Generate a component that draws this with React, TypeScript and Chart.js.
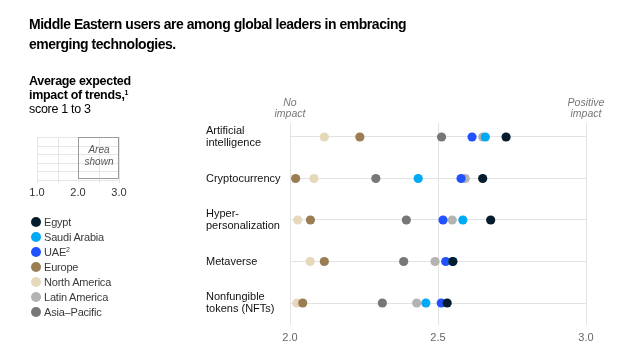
import React, { useEffect, useRef } from "react";
import { Chart, registerables } from "chart.js";

Chart.register(...registerables);

const categories: string[][] = [
  ["Artificial", "intelligence"],
  ["Cryptocurrency"],
  ["Hyper-", "personalization"],
  ["Metaverse"],
  ["Nonfungible", "tokens (NFTs)"],
];

const seriesNames = ["Egypt", "Saudi Arabia", "UAE", "Europe", "North America", "Latin America", "Asia–Pacific"];
const seriesLegend = ["Egypt", "Saudi Arabia", "UAE²", "Europe", "North America", "Latin America", "Asia–Pacific"];
const seriesColors = ["#051c2c", "#00a9f4", "#2251ff", "#9a7d52", "#e6d9bb", "#b3b3b3", "#777777"];

const egypt = [2.73, 2.651, 2.678, 2.55, 2.531];
const saudiArabia = [2.66, 2.433, 2.584, 2.55, 2.459];
const uae = [2.615, 2.578, 2.517, 2.526, 2.511];
const europe = [2.236, 2.019, 2.069, 2.116, 2.043];
const northAmerica = [2.116, 2.081, 2.026, 2.068, 2.023];
const latinAmerica = [2.651, 2.592, 2.548, 2.49, 2.428];
const asiaPacific = [2.512, 2.29, 2.393, 2.384, 2.312];

const seriesValues = [egypt, saudiArabia, uae, europe, northAmerica, latinAmerica, asiaPacific];

const xTicks = [2.0, 2.5, 3.0];
const insetTicks = ["1.0", "2.0", "3.0"];

const FONT = "'Liberation Sans', Arial, sans-serif";

const annotPlugin = {
  id: "annot",
  afterDraw(chart: any) {
    const ctx = chart.ctx;
    const x = chart.scales.x;
    ctx.save();
    ctx.fillStyle = "#777777";
    ctx.font = `italic 10.5px ${FONT}`;
    ctx.textAlign = "center";
    ctx.textBaseline = "middle";
    const x0 = x.getPixelForValue(2.0);
    const x1 = x.getPixelForValue(3.0);
    ctx.fillText("No", x0, 103);
    ctx.fillText("impact", x0, 114.5);
    ctx.fillText("Positive", x1, 103);
    ctx.fillText("impact", x1, 114.5);
    ctx.restore();
  },
};

export default function App() {
  const ref = useRef<HTMLCanvasElement | null>(null);
  useEffect(() => {
    if (!ref.current) return;
    const datasets = seriesNames.map((name, i) => ({
      label: name,
      data: seriesValues[i].map((v, j) => ({ x: v, y: j })),
      backgroundColor: seriesColors[i],
      borderWidth: 0,
      pointRadius: 4.6,
      pointHoverRadius: 4.6,
    }));
    const chart = new Chart(ref.current, {
      type: "scatter",
      data: { datasets },
      plugins: [annotPlugin],
      options: {
        animation: false,
        responsive: false,
        maintainAspectRatio: false,
        layout: { padding: { left: 206, right: 36, top: 123, bottom: 0 } },
        plugins: { legend: { display: false }, tooltip: { enabled: false } },
        scales: {
          x: {
            type: "linear",
            min: 2,
            max: 3,
            afterBuildTicks: (s: any) => {
              s.ticks = xTicks.map((v) => ({ value: v }));
            },
            afterFit: (s: any) => {
              s.height = 25;
            },
            grid: { color: "#e3e3e3", drawTicks: false, lineWidth: 1 },
            border: { display: false },
            ticks: {
              padding: 6,
              color: "#666666",
              font: { family: FONT, size: 11 },
              callback: (v: any) => Number(v).toFixed(1),
            },
          },
          y: {
            type: "linear",
            reverse: true,
            min: -0.337,
            max: 4.53,
            afterBuildTicks: (s: any) => {
              s.ticks = categories.map((_, i) => ({ value: i }));
            },
            afterFit: (s: any) => {
              s.width = 84;
            },
            grid: { color: "#e3e3e3", drawTicks: false, lineWidth: 1 },
            border: { display: false },
            ticks: {
              padding: 0,
              crossAlign: "far",
              color: "#111111",
              font: { family: FONT, size: 11, lineHeight: 1.13 },
              callback: (v: any) => categories[Math.round(Number(v))],
            },
          },
        },
      } as any,
    });
    return () => chart.destroy();
  }, []);

  const abs = (l: number, t: number, extra: React.CSSProperties = {}): React.CSSProperties => ({
    position: "absolute",
    left: l,
    top: t,
    ...extra,
  });

  const insetV = [37, 57.5, 78, 98.5, 119];
  const insetH = [137, 145.5, 154, 162.5, 171, 179.5];

  return (
    <div style={{ position: "absolute", left: 0, top: 0, width: 622, height: 350, fontFamily: FONT, background: "#fff" }}>
      <canvas ref={ref} width={622} height={350} style={{ position: "absolute", left: 0, top: 0 }} />
      <div
        style={abs(29, 14, {
          fontSize: 15.5,
          fontWeight: "bold",
          lineHeight: "20px",
          color: "#000",
          letterSpacing: -0.5,
          whiteSpace: "nowrap",
          transform: "scaleX(0.9)",
          transformOrigin: "0 0",
        })}
      >
        Middle Eastern users are among global leaders in embracing
        <br />
        emerging technologies.
      </div>
      <div style={abs(29, 74, { fontSize: 12.5, lineHeight: "14px", color: "#000", letterSpacing: -0.3, whiteSpace: "nowrap" })}>
        <b>Average expected</b>
        <br />
        <b>
          impact of trends,<sup style={{ fontSize: 7, verticalAlign: "top", lineHeight: "10px" }}>1</sup>
        </b>
        <br />
        score 1 to 3
      </div>
      {insetH.map((y, i) => (
        <div key={"h" + i} style={abs(37, y, { width: 82, height: 1, background: "#e6e6e6" })} />
      ))}
      {insetV.map((x, i) => (
        <div key={"v" + i} style={abs(x, 137, { width: 1, height: 46, background: "#e6e6e6" })} />
      ))}
      <div style={abs(78, 137, { width: 41, height: 42, border: "1px solid #9a9a9a", boxSizing: "border-box" as any })} />
      <div style={abs(78, 144, { width: 42, textAlign: "center", fontStyle: "italic", fontSize: 10, lineHeight: "11.5px", color: "#555" })}>
        Area
        <br />
        shown
      </div>
      {insetTicks.map((t, i) => (
        <div key={"t" + i} style={abs([37, 78, 119][i] - 15, 185, { width: 30, textAlign: "center", fontSize: 11, color: "#333", lineHeight: "14px" })}>
          {t}
        </div>
      ))}
      {seriesLegend.map((name, i) => (
        <div key={"l" + i} style={abs(31, 215 + i * 15, { display: "flex", alignItems: "center", height: 14, whiteSpace: "nowrap" })}>
          <span style={{ display: "inline-block", width: 10, height: 10, borderRadius: 5, background: seriesColors[i], marginRight: 3 }} />
          <span style={{ fontSize: 11, color: "#3a3a3a", letterSpacing: -0.2 }}>
            {name.endsWith("²") ? (
              <>
                UAE<sup style={{ fontSize: 7, verticalAlign: "top", lineHeight: "8px" }}>2</sup>
              </>
            ) : (
              name
            )}
          </span>
        </div>
      ))}
    </div>
  );
}
